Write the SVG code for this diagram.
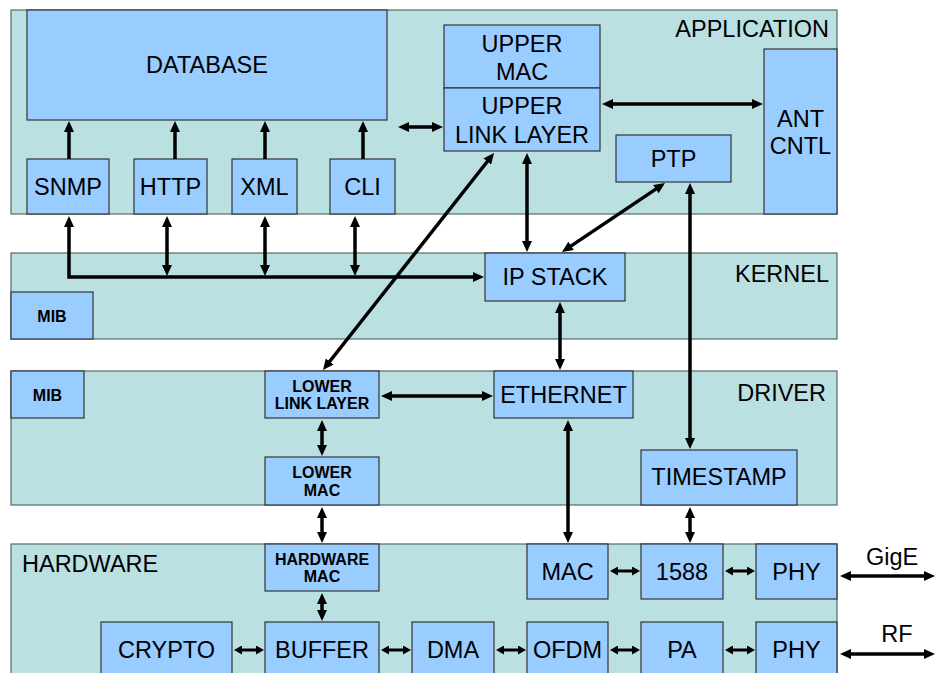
<svg xmlns="http://www.w3.org/2000/svg" width="935" height="673" viewBox="0 0 935 673">
  <style>
    .layer { fill: #bae0e2; stroke: #5a6a6a; stroke-width: 1.2; }
    .box { fill: #99ccff; stroke: #333; stroke-width: 1.2; }
    text { font-family: "Liberation Sans", Arial, sans-serif; fill: #000; }
    .t { font-size: 23.5px; text-anchor: middle; }
    .lbl { font-size: 23.5px; }
    .s { font-size: 16px; font-weight: bold; text-anchor: middle; }
    .c { fill: none; stroke: #000; stroke-width: 3.5; }
    .one { marker-end: url(#ah); }
    .two { marker-start: url(#ah); marker-end: url(#ah); }
    .hw { fill: none; stroke: #000; stroke-width: 3; marker-start: url(#as); marker-end: url(#as); }
  </style>
  <defs>
    <marker id="ah" markerUnits="userSpaceOnUse" markerWidth="11" markerHeight="10" refX="4" refY="5" orient="auto-start-reverse">
      <path d="M0,0 L11,5 L0,10 z" fill="#000"/>
    </marker>
    <marker id="as" markerUnits="userSpaceOnUse" markerWidth="8" markerHeight="9" refX="3" refY="4.5" orient="auto-start-reverse">
      <path d="M0,0 L8,4.5 L0,9 z" fill="#000"/>
    </marker>
  </defs>

  <!-- layer bands -->
  <g id="layers">
    <g id="application">
      <rect class="layer" x="11" y="10" width="826" height="204"/>
      <text class="lbl" x="829" y="37" text-anchor="end">APPLICATION</text>
    </g>
    <g id="kernel">
      <rect class="layer" x="11" y="253" width="826" height="86"/>
      <text class="lbl" x="829" y="282" text-anchor="end">KERNEL</text>
    </g>
    <g id="driver">
      <rect class="layer" x="11" y="371" width="826" height="134"/>
      <text class="lbl" x="826" y="401" text-anchor="end">DRIVER</text>
    </g>
    <g id="hardware">
      <rect class="layer" x="11" y="544" width="826" height="140"/>
      <text class="lbl" x="22" y="572">HARDWARE</text>
    </g>
  </g>

  <!-- application blocks -->
  <g id="database"><rect class="box" x="27" y="10" width="360" height="110"/><text class="t" x="207" y="73">DATABASE</text></g>
  <g id="snmp"><rect class="box" x="27" y="159" width="82" height="55"/><text class="t" x="68" y="195">SNMP</text></g>
  <g id="http"><rect class="box" x="134" y="159" width="73" height="55"/><text class="t" x="170.5" y="195">HTTP</text></g>
  <g id="xml"><rect class="box" x="232" y="159" width="65" height="55"/><text class="t" x="264.5" y="195">XML</text></g>
  <g id="cli"><rect class="box" x="330" y="159" width="65" height="55"/><text class="t" x="362.5" y="195">CLI</text></g>
  <g id="upper-mac"><rect class="box" x="444" y="25" width="156" height="63"/><text class="t" x="522" y="52">UPPER</text><text class="t" x="522" y="80">MAC</text></g>
  <g id="upper-link-layer"><rect class="box" x="444" y="88" width="156" height="63"/><text class="t" x="522" y="114">UPPER</text><text class="t" x="522" y="143">LINK LAYER</text></g>
  <g id="ptp"><rect class="box" x="616" y="135" width="115" height="47"/><text class="t" x="673.5" y="167">PTP</text></g>
  <g id="ant-cntl"><rect class="box" x="764" y="49" width="73" height="165"/><text class="t" x="800.5" y="127">ANT</text><text class="t" x="800.5" y="154">CNTL</text></g>

  <!-- kernel blocks -->
  <g id="ip-stack"><rect class="box" x="485" y="253" width="140" height="48"/><text class="t" x="555" y="285">IP STACK</text></g>
  <g id="mib-kernel"><rect class="box" x="11" y="292" width="82" height="47"/><text class="s" x="52" y="322">MIB</text></g>

  <!-- driver blocks -->
  <g id="mib-driver"><rect class="box" x="11" y="371" width="73" height="47"/><text class="s" x="47.5" y="401">MIB</text></g>
  <g id="lower-link-layer"><rect class="box" x="265" y="371" width="114" height="47"/><text class="s" x="322" y="391.5">LOWER</text><text class="s" x="322" y="409">LINK LAYER</text></g>
  <g id="ethernet"><rect class="box" x="494" y="371" width="139" height="47"/><text class="t" x="563.5" y="403">ETHERNET</text></g>
  <g id="lower-mac"><rect class="box" x="265" y="457" width="114" height="48"/><text class="s" x="322" y="478">LOWER</text><text class="s" x="322" y="496">MAC</text></g>
  <g id="timestamp"><rect class="box" x="641" y="450" width="156" height="55"/><text class="t" x="719" y="485">TIMESTAMP</text></g>

  <!-- hardware blocks -->
  <g id="hardware-mac"><rect class="box" x="265" y="544" width="114" height="47"/><text class="s" x="322" y="564.5">HARDWARE</text><text class="s" x="322" y="582">MAC</text></g>
  <g id="mac"><rect class="box" x="527" y="544" width="81" height="55"/><text class="t" x="567.5" y="580">MAC</text></g>
  <g id="ieee1588"><rect class="box" x="641" y="544" width="82" height="55"/><text class="t" x="682" y="580">1588</text></g>
  <g id="phy-gige"><rect class="box" x="756" y="544" width="81" height="55"/><text class="t" x="796.5" y="580">PHY</text></g>
  <g id="crypto"><rect class="box" x="101" y="622" width="131" height="60"/><text class="t" x="166.5" y="658">CRYPTO</text></g>
  <g id="buffer"><rect class="box" x="265" y="622" width="114" height="60"/><text class="t" x="322" y="658">BUFFER</text></g>
  <g id="dma"><rect class="box" x="412" y="622" width="82" height="60"/><text class="t" x="453" y="658">DMA</text></g>
  <g id="ofdm"><rect class="box" x="527" y="622" width="81" height="60"/><text class="t" x="567.5" y="658">OFDM</text></g>
  <g id="pa"><rect class="box" x="641" y="622" width="82" height="60"/><text class="t" x="682" y="658">PA</text></g>
  <g id="phy-rf"><rect class="box" x="756" y="622" width="81" height="60"/><text class="t" x="796.5" y="658">PHY</text></g>

  <!-- external link labels -->
  <g id="gige"><text class="t" x="892" y="565">GigE</text></g>
  <g id="rf"><text class="t" x="897" y="642">RF</text></g>

  <!-- connectors -->
  <g id="connectors">
    <line class="c one" x1="69" y1="159" x2="69" y2="128"/>
    <line class="c one" x1="175" y1="159" x2="175" y2="128"/>
    <line class="c one" x1="265" y1="159" x2="265" y2="128"/>
    <line class="c one" x1="363" y1="159" x2="363" y2="128"/>
    <line class="c two" x1="405" y1="127" x2="436" y2="127"/>
    <line class="c two" x1="609" y1="104" x2="756" y2="104"/>
    <path class="c two" d="M69,223 V277 H477"/>
    <line class="c two" x1="167" y1="223" x2="167" y2="269"/>
    <line class="c two" x1="265" y1="223" x2="265" y2="269"/>
    <line class="c two" x1="355" y1="223" x2="355" y2="269"/>
    <line class="c two" x1="527" y1="160" x2="527" y2="245"/>
    <line class="c two" x1="659.2" y1="186.9" x2="567.8" y2="248.1"/>
    <line class="c two" x1="690" y1="190" x2="690" y2="442"/>
    <line class="c two" x1="489.7" y1="158.5" x2="327.3" y2="364.5"/>
    <line class="c two" x1="388" y1="396" x2="486" y2="396"/>
    <line class="c two" x1="560" y1="309" x2="560" y2="363"/>
    <line class="c two" x1="322" y1="427" x2="322" y2="449"/>
    <line class="c two" x1="568" y1="427" x2="568" y2="536"/>
    <line class="c two" x1="322" y1="514" x2="322" y2="536"/>
    <line class="c two" x1="690" y1="514" x2="690" y2="536"/>
    <line class="c two" x1="322" y1="600" x2="322" y2="614"/>
    <line class="hw" x1="615" y1="571" x2="635" y2="571"/>
    <line class="hw" x1="730" y1="571" x2="750" y2="571"/>
    <line class="hw" x1="239" y1="650" x2="259" y2="650"/>
    <line class="hw" x1="386" y1="650" x2="406" y2="650"/>
    <line class="hw" x1="501" y1="650" x2="521" y2="650"/>
    <line class="hw" x1="615" y1="650" x2="635" y2="650"/>
    <line class="hw" x1="730" y1="650" x2="750" y2="650"/>
    <line class="c two" x1="847" y1="576" x2="928" y2="576"/>
    <line class="c two" x1="847" y1="654" x2="928" y2="654"/>
  </g>
</svg>
